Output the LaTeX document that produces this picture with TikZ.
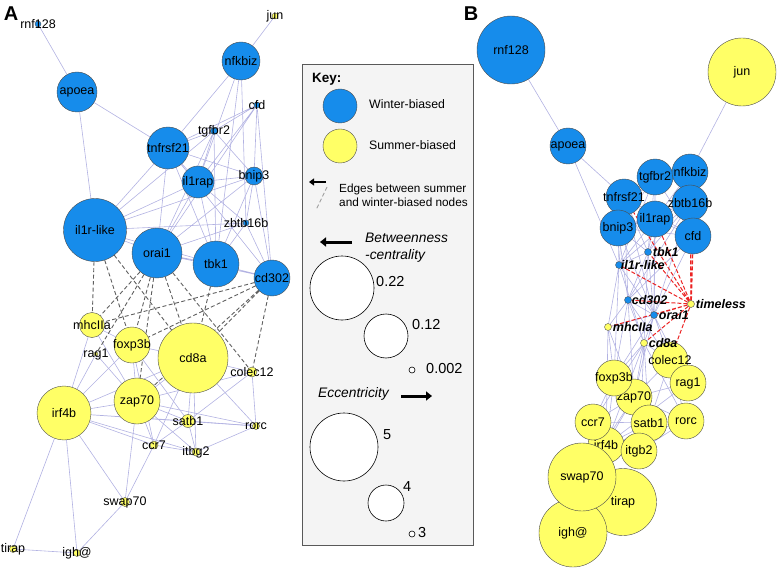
\documentclass[tikz,border=0pt]{standalone}
\usepackage{fontspec}
\setmainfont{Liberation Sans}
\usetikzlibrary{arrows.meta}
\pgfdeclarelayer{edges}
\pgfsetlayers{edges,main}
\definecolor{winter}{RGB}{22,140,235}
\definecolor{summer}{RGB}{255,255,102}
\definecolor{edgeblue}{RGB}{178,178,226}
\definecolor{crossgray}{RGB}{95,95,95}
\definecolor{timered}{RGB}{235,35,35}
\definecolor{keybg}{RGB}{244,244,244}
\newcommand{\genefont}{\fontsize{12.5}{14}\selectfont}
\newcommand{\keyfont}{\fontsize{12.3}{14}\selectfont}
\newcommand{\keyital}{\fontsize{13.8}{17}\selectfont\itshape}
\newcommand{\numfont}{\fontsize{14.5}{16}\selectfont}

\begin{document}
\begin{tikzpicture}[x=1pt, y=-1pt]
\tikzset{
    gene/.style={circle, draw=black!70, line width=0.4pt, inner sep=0pt},
    winnode/.style={gene, fill=winter},
    sumnode/.style={gene, fill=summer},
    every label/.style={font=\genefont, inner sep=0pt},
    lnk/.style={draw=edgeblue, line width=0.6pt},
    xlnk/.style={draw=crossgray, line width=0.9pt, dash pattern=on 4pt off 2.5pt},
    tlnk/.style={draw=timered, line width=1pt, dash pattern=on 4pt off 2pt},
    hubtext/.style={font=\genefont\bfseries\itshape, inner sep=1pt},
    keycirc/.style={circle, draw=black, fill=white, line width=0.6pt, inner sep=0pt},
    keytext/.style={font=\keyfont, anchor=west, inner sep=0pt, align=left},
    keyarrow/.style={line width=3pt, -{Triangle[length=6pt, width=9pt]}}
}
\useasboundingbox (0,0) rectangle (778,569);

% ---------------- panel A ----------------
\node[font=\bfseries\fontsize{20}{20}\selectfont] (labA) at (11,14) {A};

\node[winnode, minimum size=6pt, label=center:rnf128] (A-rnf128) at (38,24) {};
\node[sumnode, minimum size=6pt, label=center:jun] (A-jun) at (275,16) {};
\node[winnode, minimum size=38pt, label=center:nfkbiz] (A-nfkbiz) at (241,61) {};
\node[winnode, minimum size=40pt, label=center:apoea] (A-apoea) at (77,92) {};
\node[winnode, minimum size=6pt, label=center:cfd] (A-cfd) at (257,105) {};
\node[winnode, minimum size=7pt, label=center:tgfbr2] (A-tgfbr2) at (214,131) {};
\node[winnode, minimum size=42pt, label=center:tnfrsf21] (A-tnfrsf21) at (168,148) {};
\node[winnode, minimum size=32pt, label=center:il1rap] (A-il1rap) at (198,182) {};
\node[winnode, minimum size=18pt, label=center:bnip3] (A-bnip3) at (254,176) {};
\node[winnode, minimum size=6pt, label=center:zbtb16b] (A-zbtb16b) at (246,223) {};
\node[winnode, minimum size=63pt, label=center:il1r-like] (A-il1rlike) at (95,230) {};
\node[winnode, minimum size=50pt, label=center:orai1] (A-orai1) at (157,253) {};
\node[winnode, minimum size=46pt, label=center:tbk1] (A-tbk1) at (216,264) {};
\node[winnode, minimum size=36pt, label=center:cd302] (A-cd302) at (272,278) {};

\node[sumnode, minimum size=25pt, label=center:mhcIIa] (A-mhcIIa) at (92,325) {};
\node[sumnode, minimum size=36pt, label=center:foxp3b] (A-foxp3b) at (132,345) {};
\node[sumnode, minimum size=4pt, label=center:rag1] (A-rag1) at (96,354) {};
\node[sumnode, minimum size=70pt, label=center:cd8a] (A-cd8a) at (193,358) {};
\node[sumnode, minimum size=10pt, label=center:colec12] (A-colec12) at (252,372) {};
\node[sumnode, minimum size=54pt, label=center:irf4b] (A-irf4b) at (64,413) {};
\node[sumnode, minimum size=46pt, label=center:zap70] (A-zap70) at (137,401) {};
\node[sumnode, minimum size=13pt, label=center:satb1] (A-satb1) at (188,421) {};
\node[sumnode, minimum size=7pt, label=center:rorc] (A-rorc) at (256,426) {};
\node[sumnode, minimum size=8pt, label=center:ccr7] (A-ccr7) at (154,445) {};
\node[sumnode, minimum size=8pt, label=center:itbg2] (A-itgb2) at (196,452) {};
\node[sumnode, minimum size=9pt, label=center:swap70] (A-swap70) at (125,502) {};
\node[sumnode, minimum size=7pt, label=center:tirap] (A-tirap) at (13,549) {};
\node[sumnode, minimum size=7pt, label=center:igh@] (A-igh) at (77,553) {};

\begin{pgfonlayer}{edges}
  \draw[lnk] (A-rnf128) -- (A-apoea) (A-jun) -- (A-nfkbiz);
  \draw[lnk] (A-apoea) -- (A-tnfrsf21) (A-apoea) -- (A-il1rlike);
  \draw[lnk] (A-nfkbiz) -- (A-tnfrsf21) (A-nfkbiz) -- (A-il1rap) (A-nfkbiz) -- (A-tbk1) (A-nfkbiz) -- (A-zbtb16b);
  \draw[lnk] (A-cfd) -- (A-tgfbr2) (A-cfd) -- (A-tnfrsf21) (A-cfd) -- (A-il1rap) (A-cfd) -- (A-bnip3) (A-cfd) -- (A-orai1) (A-cfd) -- (A-cd302);
  \draw[lnk] (A-tgfbr2) -- (A-tnfrsf21) (A-tgfbr2) -- (A-il1rap) (A-tgfbr2) -- (A-bnip3) (A-tgfbr2) -- (A-tbk1) (A-tgfbr2) -- (A-orai1) (A-tgfbr2) -- (A-il1rlike);
  \draw[lnk] (A-tnfrsf21) -- (A-il1rap) (A-tnfrsf21) -- (A-bnip3) (A-tnfrsf21) -- (A-il1rlike) (A-tnfrsf21) -- (A-orai1) (A-tnfrsf21) -- (A-tbk1) (A-tnfrsf21) -- (A-cd302);
  \draw[lnk] (A-il1rap) -- (A-bnip3) (A-il1rap) -- (A-il1rlike) (A-il1rap) -- (A-orai1) (A-il1rap) -- (A-tbk1) (A-il1rap) -- (A-zbtb16b);
  \draw[lnk] (A-bnip3) -- (A-zbtb16b) (A-bnip3) -- (A-tbk1) (A-bnip3) -- (A-cd302) (A-bnip3) -- (A-il1rlike) (A-bnip3) -- (A-orai1);
  \draw[lnk] (A-zbtb16b) -- (A-il1rlike) (A-zbtb16b) -- (A-orai1) (A-zbtb16b) -- (A-tbk1) (A-zbtb16b) -- (A-cd302);
  \draw[lnk] (A-il1rlike) -- (A-orai1) (A-il1rlike) -- (A-tbk1) (A-orai1) -- (A-tbk1) (A-orai1) -- (A-cd302) (A-tbk1) -- (A-cd302);
  % summer-biased part
  \draw[lnk] (A-mhcIIa) -- (A-irf4b) (A-mhcIIa) -- (A-foxp3b) (A-mhcIIa) -- (A-zap70) (A-rag1) -- (A-irf4b) (A-rag1) -- (A-zap70);
  \draw[lnk] (A-foxp3b) -- (A-irf4b) (A-foxp3b) -- (A-zap70) (A-foxp3b) -- (A-satb1) (A-foxp3b) -- (A-ccr7) (A-foxp3b) -- (A-cd8a);
  \draw[lnk] (A-cd8a) -- (A-irf4b) (A-cd8a) -- (A-zap70) (A-cd8a) -- (A-satb1) (A-cd8a) -- (A-itgb2) (A-cd8a) -- (A-ccr7) (A-cd8a) -- (A-rorc) (A-cd8a) -- (A-colec12);
  \draw[lnk] (A-colec12) -- (A-rorc) (A-colec12) -- (A-satb1) (A-colec12) -- (A-zap70);
  \draw[lnk] (A-irf4b) -- (A-zap70) (A-irf4b) -- (A-satb1) (A-irf4b) -- (A-ccr7) (A-irf4b) -- (A-rorc) (A-irf4b) -- (A-itgb2) (A-irf4b) -- (A-swap70) (A-irf4b) -- (A-tirap) (A-irf4b) -- (A-igh);
  \draw[lnk] (A-zap70) -- (A-satb1) (A-zap70) -- (A-ccr7) (A-zap70) -- (A-itgb2) (A-zap70) -- (A-swap70) (A-zap70) -- (A-rorc);
  \draw[lnk] (A-satb1) -- (A-rorc) (A-satb1) -- (A-ccr7) (A-satb1) -- (A-itgb2) (A-ccr7) -- (A-itgb2) (A-ccr7) -- (A-swap70) (A-itgb2) -- (A-rorc);
  \draw[lnk] (A-swap70) -- (A-igh) (A-tirap) -- (A-igh);
  % winter to summer
  \draw[xlnk] (A-il1rlike) -- (A-mhcIIa) (A-il1rlike) -- (A-foxp3b) (A-il1rlike) -- (A-cd8a);
  \draw[xlnk] (A-orai1) -- (A-rag1) (A-orai1) -- (A-mhcIIa) (A-orai1) -- (A-foxp3b) (A-orai1) -- (A-zap70) (A-orai1) -- (A-cd8a) (A-orai1) -- (A-colec12);
  \draw[xlnk] (A-tbk1) -- (A-cd8a);
  \draw[xlnk] (A-cd302) -- (A-mhcIIa) (A-cd302) -- (A-foxp3b) (A-cd302) -- (A-cd8a) (A-cd302) -- (A-colec12) (A-cd302) -- (A-zap70);
\end{pgfonlayer}

% ---------------- key ----------------
\draw[fill=keybg, draw=black!65, line width=1pt] (302,65) rectangle (473,545);
\node[font=\bfseries\fontsize{13.5}{15}\selectfont, anchor=west, inner sep=0pt] (keyttl) at (312,79) {Key:};
\node[winnode, minimum size=34pt] (key-w) at (340,106) {};
\node[keytext] (key-wt) at (369,104) {Winter-biased};
\node[sumnode, minimum size=34pt] (key-s) at (340,146) {};
\node[keytext] (key-st) at (369,145) {Summer-biased};
\coordinate (key-e1) at (326,182);
\coordinate (key-e2) at (309,182);
\draw[line width=2.5pt, -{Triangle[length=5pt, width=7pt]}] (key-e1) -- (key-e2);
\coordinate (key-d1) at (327,187);
\coordinate (key-d2) at (316,210);
\draw[xlnk, draw=gray!75] (key-d1) -- (key-d2);
\node[keytext, font=\fontsize{11.8}{14}\selectfont] (key-et) at (339,195) {Edges between summer\\and winter-biased nodes};

\coordinate (key-b1) at (352,242);
\coordinate (key-b2) at (320,242);
\draw[keyarrow] (key-b1) -- (key-b2);
\node[keytext, font=\keyital] (key-bt) at (365,248) {Betweenness\\-centrality};
\node[keycirc, minimum size=64pt] (key-bc1) at (342,288) {};
\node[keytext, font=\numfont] (key-bn1) at (376,282) {0.22};
\node[keycirc, minimum size=44pt] (key-bc2) at (386,336) {};
\node[keytext, font=\numfont] (key-bn2) at (412,325) {0.12};
\node[keycirc, minimum size=6pt] (key-bc3) at (412,370) {};
\node[keytext, font=\numfont] (key-bn3) at (426,369) {0.002};

\node[keytext, font=\keyital] (key-ct) at (318,394) {Eccentricity};
\coordinate (key-c1) at (401,396);
\coordinate (key-c2) at (432,396);
\draw[keyarrow] (key-c1) -- (key-c2);
\node[keycirc, minimum size=68pt] (key-ec1) at (344,447) {};
\node[keytext, font=\numfont] (key-en1) at (383,435) {5};
\node[keycirc, minimum size=36pt] (key-ec2) at (386,503) {};
\node[keytext, font=\numfont] (key-en2) at (403,487) {4};
\node[keycirc, minimum size=6pt] (key-ec3) at (412,534) {};
\node[keytext, font=\numfont] (key-en3) at (418,533) {3};

% ---------------- panel B ----------------
\node[font=\bfseries\fontsize{20}{20}\selectfont] (labB) at (471,14) {B};

\node[winnode, minimum size=68pt, label=center:rnf128] (B-rnf128) at (511,50) {};
\node[sumnode, minimum size=68pt, label=center:jun] (B-jun) at (742,72) {};
\node[winnode, minimum size=36pt, label=center:apoea] (B-apoea) at (568,146) {};
\node[winnode, minimum size=36pt, label=center:tnfrsf21] (B-tnfrsf21) at (624,197) {};
\node[winnode, minimum size=36pt, label=center:bnip3] (B-bnip3) at (618,228) {};
\node[winnode, minimum size=36pt, label=center:il1rap] (B-il1rap) at (655,219) {};
\node[winnode, minimum size=36pt, label=center:tgfbr2] (B-tgfbr2) at (655,177) {};
\node[winnode, minimum size=36pt, label=center:nfkbiz] (B-nfkbiz) at (690,172) {};
\node[winnode, minimum size=36pt, label=center:zbtb16b] (B-zbtb16b) at (690,203) {};
\node[winnode, minimum size=36pt, label=center:cfd] (B-cfd) at (693,236) {};
\node[sumnode, minimum size=36pt, label=center:colec12] (B-colec12) at (670,360) {};

\node[winnode, minimum size=7pt, label={[hubtext]east:tbk1}] (B-tbk1) at (648,252) {};
\node[winnode, minimum size=7pt, label={[hubtext, xshift=-3pt]east:il1r-like}] (B-il1rlike) at (619,265) {};
\node[winnode, minimum size=7pt, label={[hubtext, xshift=-1pt]east:cd302}] (B-cd302) at (628,300) {};
\node[sumnode, minimum size=7pt, label={[hubtext]east:timeless}] (B-timeless) at (691,304) {};
\node[winnode, minimum size=7pt, label={[hubtext]east:orai1}] (B-orai1) at (654,315) {};
\node[sumnode, minimum size=7pt, label={[hubtext]east:mhcIIa}] (B-mhcIIa) at (608,327) {};
\node[sumnode, minimum size=7pt, label={[hubtext]east:cd8a}] (B-cd8a) at (644,343) {};

\node[sumnode, minimum size=36pt, label=center:rag1] (B-rag1) at (688,383) {};
\node[sumnode, minimum size=36pt, label=center:zap70] (B-zap70) at (634,397) {};
\node[sumnode, minimum size=36pt, label=center:foxp3b] (B-foxp3b) at (614,378) {};
\node[sumnode, minimum size=36pt, label=center:irf4b] (B-irf4b) at (606,445) {};
\node[sumnode, minimum size=36pt, label=center:ccr7] (B-ccr7) at (593,422) {};
\node[sumnode, minimum size=36pt, label=center:satb1] (B-satb1) at (649,423) {};
\node[sumnode, minimum size=36pt, label=center:rorc] (B-rorc) at (686,421) {};
\node[sumnode, minimum size=36pt, label=center:itgb2] (B-itgb2) at (639,451) {};
\node[sumnode, minimum size=67pt, label=center:tirap] (B-tirap) at (623,502) {};
\node[sumnode, minimum size=68pt, label=center:igh@] (B-igh) at (573,533) {};
\node[sumnode, minimum size=68pt, label=center:swap70] (B-swap70) at (582,477) {};

\begin{pgfonlayer}{edges}
  \draw[lnk] (B-rnf128) -- (B-apoea) (B-jun) -- (B-nfkbiz);
  \draw[lnk] (B-apoea) -- (B-tnfrsf21) (B-apoea) -- (B-il1rlike);
  \draw[lnk] (B-nfkbiz) -- (B-tnfrsf21) (B-nfkbiz) -- (B-il1rap) (B-nfkbiz) -- (B-tbk1) (B-nfkbiz) -- (B-zbtb16b);
  \draw[lnk] (B-cfd) -- (B-tgfbr2) (B-cfd) -- (B-tnfrsf21) (B-cfd) -- (B-il1rap) (B-cfd) -- (B-bnip3) (B-cfd) -- (B-orai1) (B-cfd) -- (B-cd302);
  \draw[lnk] (B-tgfbr2) -- (B-tnfrsf21) (B-tgfbr2) -- (B-il1rap) (B-tgfbr2) -- (B-bnip3) (B-tgfbr2) -- (B-tbk1) (B-tgfbr2) -- (B-orai1) (B-tgfbr2) -- (B-il1rlike);
  \draw[lnk] (B-tnfrsf21) -- (B-il1rap) (B-tnfrsf21) -- (B-bnip3) (B-tnfrsf21) -- (B-il1rlike) (B-tnfrsf21) -- (B-orai1) (B-tnfrsf21) -- (B-tbk1) (B-tnfrsf21) -- (B-cd302);
  \draw[lnk] (B-il1rap) -- (B-bnip3) (B-il1rap) -- (B-il1rlike) (B-il1rap) -- (B-orai1) (B-il1rap) -- (B-tbk1) (B-il1rap) -- (B-zbtb16b);
  \draw[lnk] (B-bnip3) -- (B-zbtb16b) (B-bnip3) -- (B-tbk1) (B-bnip3) -- (B-cd302) (B-bnip3) -- (B-il1rlike) (B-bnip3) -- (B-orai1);
  \draw[lnk] (B-zbtb16b) -- (B-il1rlike) (B-zbtb16b) -- (B-orai1) (B-zbtb16b) -- (B-tbk1) (B-zbtb16b) -- (B-cd302);
  \draw[lnk] (B-il1rlike) -- (B-orai1) (B-il1rlike) -- (B-tbk1) (B-orai1) -- (B-tbk1) (B-orai1) -- (B-cd302) (B-tbk1) -- (B-cd302);
  \draw[lnk] (B-mhcIIa) -- (B-irf4b) (B-mhcIIa) -- (B-foxp3b) (B-mhcIIa) -- (B-zap70) (B-rag1) -- (B-irf4b) (B-rag1) -- (B-zap70);
  \draw[lnk] (B-foxp3b) -- (B-irf4b) (B-foxp3b) -- (B-zap70) (B-foxp3b) -- (B-satb1) (B-foxp3b) -- (B-ccr7) (B-foxp3b) -- (B-cd8a);
  \draw[lnk] (B-cd8a) -- (B-irf4b) (B-cd8a) -- (B-zap70) (B-cd8a) -- (B-satb1) (B-cd8a) -- (B-itgb2) (B-cd8a) -- (B-ccr7) (B-cd8a) -- (B-rorc) (B-cd8a) -- (B-colec12);
  \draw[lnk] (B-colec12) -- (B-rorc) (B-colec12) -- (B-satb1) (B-colec12) -- (B-zap70);
  \draw[lnk] (B-irf4b) -- (B-zap70) (B-irf4b) -- (B-satb1) (B-irf4b) -- (B-ccr7) (B-irf4b) -- (B-rorc) (B-irf4b) -- (B-itgb2) (B-irf4b) -- (B-swap70) (B-irf4b) -- (B-tirap) (B-irf4b) -- (B-igh);
  \draw[lnk] (B-zap70) -- (B-satb1) (B-zap70) -- (B-ccr7) (B-zap70) -- (B-itgb2) (B-zap70) -- (B-swap70) (B-zap70) -- (B-rorc);
  \draw[lnk] (B-satb1) -- (B-rorc) (B-satb1) -- (B-ccr7) (B-satb1) -- (B-itgb2) (B-ccr7) -- (B-itgb2) (B-ccr7) -- (B-swap70) (B-itgb2) -- (B-rorc);
  \draw[lnk] (B-swap70) -- (B-igh) (B-tirap) -- (B-igh);
  \draw[lnk] (B-il1rlike) -- (B-mhcIIa) (B-il1rlike) -- (B-foxp3b) (B-il1rlike) -- (B-cd8a);
  \draw[lnk] (B-orai1) -- (B-rag1) (B-orai1) -- (B-mhcIIa) (B-orai1) -- (B-foxp3b) (B-orai1) -- (B-zap70) (B-orai1) -- (B-cd8a) (B-orai1) -- (B-colec12);
  \draw[lnk] (B-tbk1) -- (B-cd8a);
  \draw[lnk] (B-cd302) -- (B-mhcIIa) (B-cd302) -- (B-foxp3b) (B-cd302) -- (B-cd8a) (B-cd302) -- (B-colec12) (B-cd302) -- (B-zap70);
  % timeless
  \draw[tlnk] (B-timeless) -- (B-tnfrsf21) (B-timeless) -- (B-il1rap) (B-timeless) -- (B-zbtb16b) (B-timeless) -- (B-tbk1);
  \draw[tlnk] (B-timeless) -- (B-il1rlike) (B-timeless) -- (B-cd302) (B-timeless) -- (B-orai1) (B-timeless) -- (B-mhcIIa);
  \draw[tlnk] (B-timeless) -- (B-cd8a) (B-timeless) -- (B-colec12);
  \draw[tlnk, line width=1.6pt] (B-timeless) -- (B-cfd);
\end{pgfonlayer}
\end{tikzpicture}
\end{document}
